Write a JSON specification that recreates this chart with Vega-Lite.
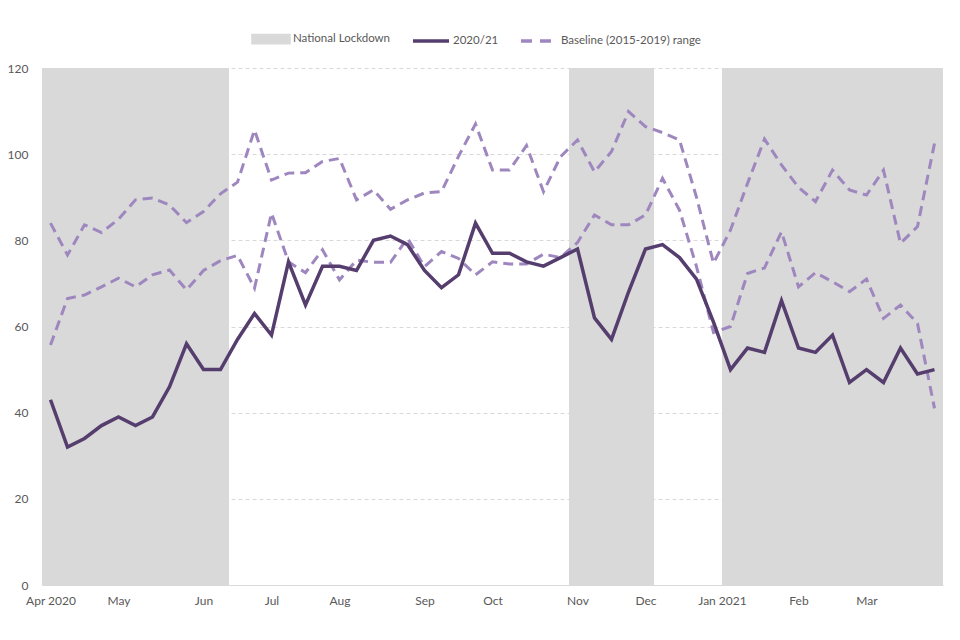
{
  "$schema": "https://vega.github.io/schema/vega-lite/v6.json",
  "width": 901,
  "height": 517,
  "autosize": {"type": "none"},
  "padding": {"left": 42, "top": 68, "right": 17, "bottom": 55},
  "background": "white",
  "config": {"view": {"stroke": null}, "font": "Lato"},
  "datasets": {
    "lockdowns": [
      {"period": "First national lockdown", "start": -0.5, "end": 10.5},
      {"period": "Second national lockdown", "start": 30.5, "end": 35.5},
      {"period": "Third national lockdown", "start": 39.5, "end": 52.5}
    ],
    "weekly": [
      {"wk": 0, "actual": 43, "upper": 84, "lower": 55.7},
      {"wk": 1, "actual": 32, "upper": 76.6, "lower": 66.5},
      {"wk": 2, "actual": 34, "upper": 83.6, "lower": 67.3},
      {"wk": 3, "actual": 37, "upper": 81.8, "lower": 69.2},
      {"wk": 4, "actual": 39, "upper": 84.9, "lower": 71.2},
      {"wk": 5, "actual": 37, "upper": 89.4, "lower": 69.2},
      {"wk": 6, "actual": 39, "upper": 89.8, "lower": 72},
      {"wk": 7, "actual": 46, "upper": 88.2, "lower": 73.1},
      {"wk": 8, "actual": 56, "upper": 84.1, "lower": 68.5},
      {"wk": 9, "actual": 50, "upper": 86.7, "lower": 73},
      {"wk": 10, "actual": 50, "upper": 90.8, "lower": 75.3},
      {"wk": 11, "actual": 57, "upper": 93.5, "lower": 76.5},
      {"wk": 12, "actual": 63, "upper": 105.6, "lower": 68.9},
      {"wk": 13, "actual": 58, "upper": 94, "lower": 86.3},
      {"wk": 14, "actual": 75, "upper": 95.6, "lower": 75},
      {"wk": 15, "actual": 65, "upper": 95.7, "lower": 72.5},
      {"wk": 16, "actual": 74, "upper": 98.3, "lower": 77.8},
      {"wk": 17, "actual": 74, "upper": 99, "lower": 70.8},
      {"wk": 18, "actual": 73, "upper": 89.4, "lower": 75.4},
      {"wk": 19, "actual": 80, "upper": 91.7, "lower": 74.9},
      {"wk": 20, "actual": 81, "upper": 87.2, "lower": 74.9},
      {"wk": 21, "actual": 79, "upper": 89.4, "lower": 80.5},
      {"wk": 22, "actual": 73, "upper": 91, "lower": 73.9},
      {"wk": 23, "actual": 69, "upper": 91.3, "lower": 77.4},
      {"wk": 24, "actual": 72, "upper": 99.5, "lower": 75.8},
      {"wk": 25, "actual": 84, "upper": 107, "lower": 72},
      {"wk": 26, "actual": 77, "upper": 96.3, "lower": 75},
      {"wk": 27, "actual": 77, "upper": 96.3, "lower": 74.5},
      {"wk": 28, "actual": 75, "upper": 102, "lower": 74.5},
      {"wk": 29, "actual": 74, "upper": 91.3, "lower": 76.8},
      {"wk": 30, "actual": 76, "upper": 99.4, "lower": 76},
      {"wk": 31, "actual": 78, "upper": 103.3, "lower": 79.5},
      {"wk": 32, "actual": 62, "upper": 95.9, "lower": 85.9},
      {"wk": 33, "actual": 57, "upper": 100.6, "lower": 83.6},
      {"wk": 34, "actual": 68, "upper": 109.9, "lower": 83.6},
      {"wk": 35, "actual": 78, "upper": 106.4, "lower": 85.9},
      {"wk": 36, "actual": 79, "upper": 105, "lower": 94.4},
      {"wk": 37, "actual": 76, "upper": 103.3, "lower": 87},
      {"wk": 38, "actual": 71, "upper": 90, "lower": 73.9},
      {"wk": 39, "actual": 61, "upper": 74.7, "lower": 58.6},
      {"wk": 40, "actual": 50, "upper": 82.4, "lower": 60},
      {"wk": 41, "actual": 55, "upper": 93.2, "lower": 72.3},
      {"wk": 42, "actual": 54, "upper": 103.5, "lower": 73.6},
      {"wk": 43, "actual": 66, "upper": 97.5, "lower": 82},
      {"wk": 44, "actual": 55, "upper": 92.3, "lower": 69.2},
      {"wk": 45, "actual": 54, "upper": 89, "lower": 72.5},
      {"wk": 46, "actual": 58, "upper": 96.3, "lower": 70.4},
      {"wk": 47, "actual": 47, "upper": 91.7, "lower": 68.1},
      {"wk": 48, "actual": 50, "upper": 90.5, "lower": 71},
      {"wk": 49, "actual": 47, "upper": 96.3, "lower": 61.9},
      {"wk": 50, "actual": 55, "upper": 79.3, "lower": 65},
      {"wk": 51, "actual": 49, "upper": 83.2, "lower": 60.7},
      {"wk": 52, "actual": 50, "upper": 102.5, "lower": 41}
    ]
  },
  "layer": [
    {
      "data": {"name": "lockdowns"},
      "mark": {"type": "rect", "color": "#D9D9D9"},
      "encoding": {
        "x": {
          "field": "start", "type": "quantitative", "title": null,
          "scale": {"domain": [-0.5, 52.5], "nice": false, "zero": false},
          "axis": {
            "values": [0, 4, 9, 13, 17, 22, 26, 31, 35, 39.5, 44, 48],
            "labelExpr": "datum.value == 0 ? 'Apr 2020' : datum.value == 4 ? 'May' : datum.value == 9 ? 'Jun' : datum.value == 13 ? 'Jul' : datum.value == 17 ? 'Aug' : datum.value == 22 ? 'Sep' : datum.value == 26 ? 'Oct' : datum.value == 31 ? 'Nov' : datum.value == 35 ? 'Dec' : datum.value == 39.5 ? 'Jan 2021' : datum.value == 44 ? 'Feb' : 'Mar'",
            "grid": false, "ticks": false, "tickSize": 0,
            "domain": true, "domainColor": "#D9D9D9", "domainWidth": 1,
            "labelPadding": 10, "labelColor": "#595959", "labelFont": "Lato", "labelFontSize": 12,
            "labelFlush": false, "labelOverlap": false, "zindex": 1
          }
        },
        "x2": {"field": "end"},
        "y": {
          "datum": 0, "type": "quantitative", "title": null,
          "scale": {"domain": [0, 120], "nice": false},
          "axis": {
            "values": [0, 20, 40, 60, 80, 100, 120],
            "domain": false, "ticks": false, "tickSize": 0,
            "grid": true, "gridDash": [4, 3], "gridColor": "#D9D9D9", "gridWidth": 1,
            "labelPadding": 14, "labelColor": "#595959", "labelFont": "Lato", "labelFontSize": 12
          }
        },
        "y2": {"datum": 120},
        "color": {
          "datum": "National Lockdown", "type": "nominal",
          "scale": {
            "domain": ["National Lockdown", "2020/21", "Baseline (2015-2019) range"],
            "range": ["#D9D9D9", "#553D6E", "#9E87BF"]
          },
          "legend": {
            "orient": "none", "legendX": 209, "legendY": -49,
            "direction": "horizontal", "title": null, "padding": 0,
            "symbolType": "stroke", "symbolSize": 1300, "symbolStrokeWidth": 3.5,
            "labelFont": "Lato", "labelFontSize": 11.5, "labelColor": "#595959",
            "labelOffset": 2, "columnPadding": 14,
            "encode": {
              "symbols": {
                "update": {
                  "shape": {"signal": "datum.value === 'National Lockdown' ? 'M-1,-0.2H1V0.2H-1Z' : 'stroke'"},
                  "fill": {"signal": "datum.value === 'National Lockdown' ? '#D9D9D9' : 'transparent'"},
                  "stroke": {"signal": "datum.value === 'National Lockdown' ? 'transparent' : scale('color', datum.value)"},
                  "opacity": {"value": 1},
                  "strokeDash": {"signal": "datum.value === 'Baseline (2015-2019) range' ? [11, 8] : [100, 0]"}
                }
              }
            }
          }
        }
      }
    },
    {
      "data": {"name": "weekly"},
      "mark": {"type": "line", "strokeWidth": 3, "strokeDash": [10, 6]},
      "encoding": {
        "x": {"field": "wk", "type": "quantitative", "title": null},
        "y": {"field": "upper", "type": "quantitative", "title": null},
        "color": {"datum": "Baseline (2015-2019) range", "type": "nominal"}
      }
    },
    {
      "data": {"name": "weekly"},
      "mark": {"type": "line", "strokeWidth": 3, "strokeDash": [10, 6]},
      "encoding": {
        "x": {"field": "wk", "type": "quantitative", "title": null},
        "y": {"field": "lower", "type": "quantitative", "title": null},
        "color": {"datum": "Baseline (2015-2019) range", "type": "nominal"}
      }
    },
    {
      "data": {"name": "weekly"},
      "mark": {"type": "line", "strokeWidth": 3.5},
      "encoding": {
        "x": {"field": "wk", "type": "quantitative", "title": null},
        "y": {"field": "actual", "type": "quantitative", "title": null},
        "color": {"datum": "2020/21", "type": "nominal"}
      }
    }
  ]
}
